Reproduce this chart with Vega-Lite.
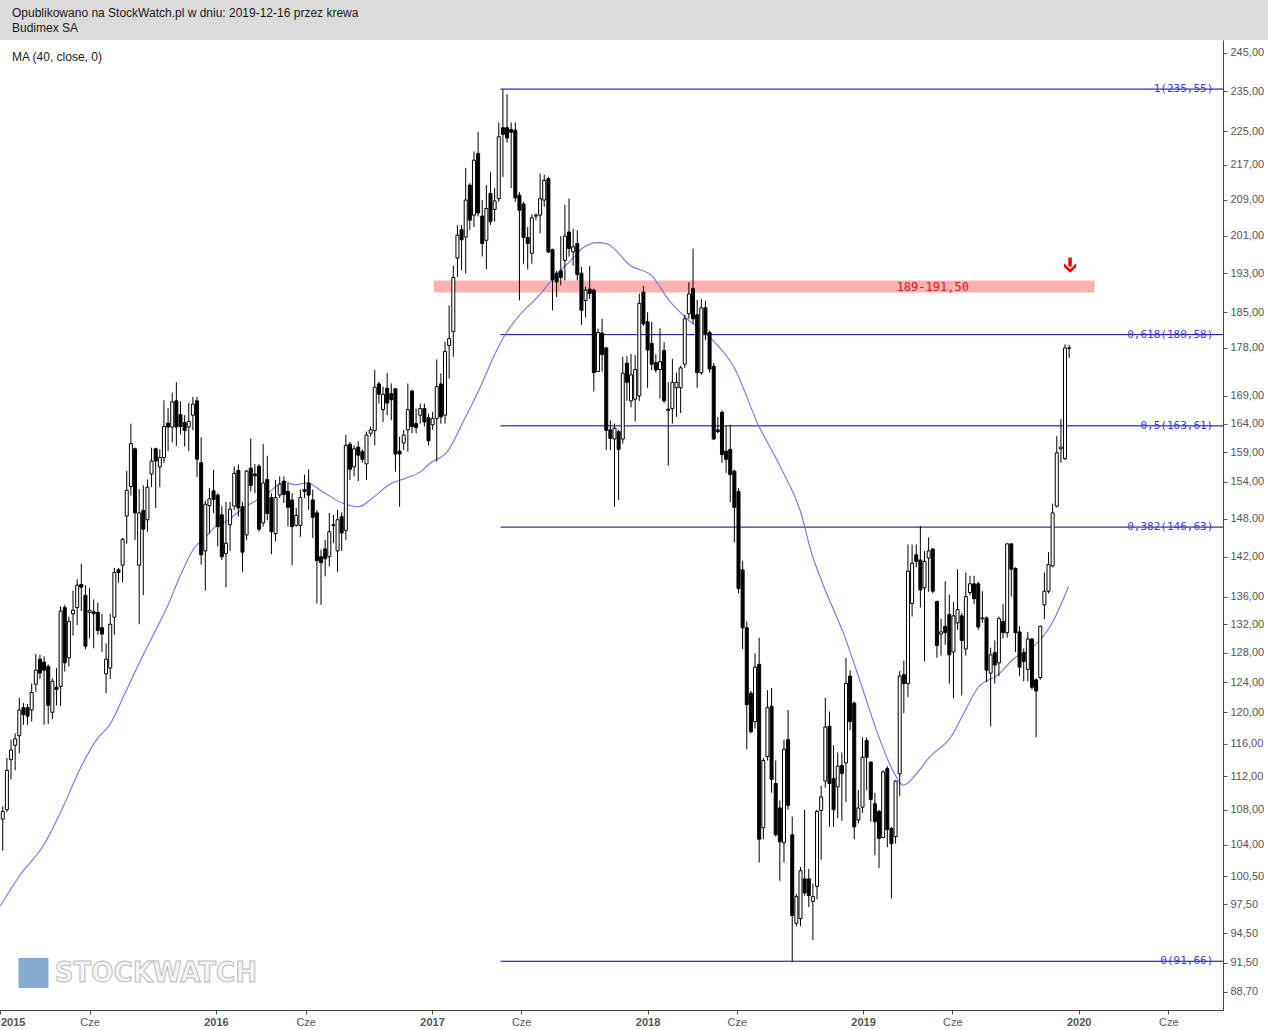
{
  "$schema": "https://vega.github.io/schema/vega-lite/v6.json",
  "padding": {"left": -2, "top": 0, "right": 0, "bottom": 0},
  "spacing": 0,
  "background": "#ffffff",
  "config": {"view": {"stroke": null}, "font": "Liberation Sans", "axis": {"labelFont": "Liberation Sans"}},
  "datasets": {
    "candles": [
      {"d":"2015-01-05","o":106.9,"h":108.4,"l":103.3,"c":107.8},
      {"d":"2015-01-12","o":108.0,"h":114.2,"l":107.7,"c":112.7},
      {"d":"2015-01-19","o":114.0,"h":116.5,"l":111.6,"c":115.2},
      {"d":"2015-01-26","o":115.8,"h":117.3,"l":112.7,"c":116.6},
      {"d":"2015-02-02","o":117.0,"h":121.9,"l":114.8,"c":120.3},
      {"d":"2015-02-09","o":120.6,"h":121.2,"l":118.4,"c":119.7},
      {"d":"2015-02-16","o":120.6,"h":121.1,"l":118.4,"c":119.5},
      {"d":"2015-02-23","o":120.3,"h":123.8,"l":118.8,"c":122.6},
      {"d":"2015-03-02","o":123.7,"h":127.8,"l":122.7,"c":125.6},
      {"d":"2015-03-09","o":127.1,"h":127.7,"l":124.4,"c":125.2},
      {"d":"2015-03-16","o":126.7,"h":127.5,"l":118.4,"c":125.6},
      {"d":"2015-03-23","o":126.1,"h":126.4,"l":118.5,"c":120.9},
      {"d":"2015-03-30","o":120.0,"h":124.5,"l":119.1,"c":124.1},
      {"d":"2015-04-06","o":123.3,"h":125.9,"l":120.9,"c":123.0},
      {"d":"2015-04-13","o":123.4,"h":134.6,"l":120.8,"c":133.9},
      {"d":"2015-04-20","o":134.4,"h":134.8,"l":125.4,"c":126.6},
      {"d":"2015-04-27","o":127.3,"h":133.1,"l":126.1,"c":132.4},
      {"d":"2015-05-04","o":133.5,"h":136.9,"l":130.4,"c":134.0},
      {"d":"2015-05-11","o":134.4,"h":138.6,"l":131.9,"c":137.7},
      {"d":"2015-05-18","o":137.8,"h":140.9,"l":133.9,"c":137.4},
      {"d":"2015-05-25","o":136.2,"h":137.7,"l":128.5,"c":128.9},
      {"d":"2015-06-01","o":133.7,"h":137.3,"l":130.0,"c":134.0},
      {"d":"2015-06-08","o":133.8,"h":135.6,"l":128.6,"c":133.5},
      {"d":"2015-06-15","o":133.7,"h":135.1,"l":130.5,"c":131.1},
      {"d":"2015-06-22","o":131.5,"h":133.5,"l":128.1,"c":130.6},
      {"d":"2015-06-29","o":125.1,"h":129.3,"l":122.5,"c":127.1},
      {"d":"2015-07-06","o":125.9,"h":133.5,"l":124.4,"c":132.0},
      {"d":"2015-07-13","o":133.0,"h":140.3,"l":130.5,"c":139.6},
      {"d":"2015-07-20","o":140.0,"h":140.3,"l":138.1,"c":139.6},
      {"d":"2015-07-27","o":140.7,"h":144.9,"l":138.1,"c":144.7},
      {"d":"2015-08-03","o":148.4,"h":155.8,"l":144.0,"c":152.6},
      {"d":"2015-08-10","o":153.2,"h":164.0,"l":151.7,"c":160.5},
      {"d":"2015-08-17","o":159.6,"h":159.8,"l":144.6,"c":148.9},
      {"d":"2015-08-24","o":140.7,"h":152.8,"l":132.0,"c":148.9},
      {"d":"2015-08-31","o":149.3,"h":153.4,"l":136.2,"c":146.3},
      {"d":"2015-09-07","o":147.8,"h":154.4,"l":145.9,"c":153.1},
      {"d":"2015-09-14","o":155.3,"h":159.8,"l":153.1,"c":157.5},
      {"d":"2015-09-21","o":159.6,"h":159.8,"l":149.7,"c":157.5},
      {"d":"2015-09-28","o":156.5,"h":159.5,"l":153.1,"c":158.1},
      {"d":"2015-10-05","o":158.1,"h":168.2,"l":157.2,"c":163.5},
      {"d":"2015-10-12","o":164.1,"h":166.8,"l":159.2,"c":163.4},
      {"d":"2015-10-19","o":163.4,"h":169.6,"l":160.7,"c":167.9},
      {"d":"2015-10-26","o":168.1,"h":171.5,"l":160.1,"c":163.4},
      {"d":"2015-11-02","o":165.6,"h":168.0,"l":162.1,"c":163.5},
      {"d":"2015-11-09","o":164.2,"h":165.5,"l":160.0,"c":162.8},
      {"d":"2015-11-16","o":163.4,"h":167.7,"l":159.2,"c":164.4},
      {"d":"2015-11-23","o":165.5,"h":168.8,"l":162.8,"c":167.5},
      {"d":"2015-11-30","o":168.1,"h":168.8,"l":154.8,"c":157.8},
      {"d":"2015-12-07","o":157.2,"h":161.6,"l":140.8,"c":142.3},
      {"d":"2015-12-14","o":142.9,"h":150.9,"l":136.9,"c":150.3},
      {"d":"2015-12-21","o":150.1,"h":153.0,"l":145.6,"c":151.2},
      {"d":"2015-12-28","o":152.5,"h":156.0,"l":148.9,"c":151.1},
      {"d":"2016-01-04","o":151.8,"h":152.1,"l":143.6,"c":146.7},
      {"d":"2016-01-11","o":148.6,"h":150.0,"l":141.5,"c":142.0},
      {"d":"2016-01-18","o":142.5,"h":150.7,"l":137.4,"c":144.1},
      {"d":"2016-01-25","o":147.0,"h":150.7,"l":142.9,"c":149.5},
      {"d":"2016-02-01","o":150.0,"h":156.6,"l":149.4,"c":155.4},
      {"d":"2016-02-08","o":155.9,"h":156.9,"l":148.3,"c":149.7},
      {"d":"2016-02-15","o":149.9,"h":150.7,"l":139.7,"c":142.7},
      {"d":"2016-02-22","o":145.4,"h":156.0,"l":144.6,"c":155.8},
      {"d":"2016-02-29","o":156.3,"h":161.4,"l":152.4,"c":153.4},
      {"d":"2016-03-07","o":155.3,"h":157.0,"l":152.1,"c":155.0},
      {"d":"2016-03-14","o":156.6,"h":157.0,"l":145.9,"c":146.3},
      {"d":"2016-03-21","o":147.3,"h":160.4,"l":146.7,"c":153.8},
      {"d":"2016-03-28","o":154.4,"h":158.4,"l":147.7,"c":148.8},
      {"d":"2016-04-04","o":151.4,"h":152.1,"l":142.4,"c":145.9},
      {"d":"2016-04-11","o":145.6,"h":154.3,"l":144.4,"c":151.4},
      {"d":"2016-04-18","o":151.8,"h":154.9,"l":151.3,"c":153.6},
      {"d":"2016-04-25","o":154.1,"h":154.9,"l":150.5,"c":151.9},
      {"d":"2016-05-02","o":152.4,"h":153.8,"l":146.7,"c":149.8},
      {"d":"2016-05-09","o":151.0,"h":152.1,"l":140.7,"c":146.7},
      {"d":"2016-05-16","o":146.9,"h":149.7,"l":146.7,"c":148.5},
      {"d":"2016-05-23","o":146.9,"h":152.7,"l":145.1,"c":151.4},
      {"d":"2016-05-30","o":152.7,"h":155.2,"l":151.3,"c":152.4},
      {"d":"2016-06-06","o":153.8,"h":156.1,"l":149.4,"c":151.8},
      {"d":"2016-06-13","o":151.0,"h":152.7,"l":144.9,"c":148.2},
      {"d":"2016-06-20","o":148.9,"h":149.4,"l":135.0,"c":141.4},
      {"d":"2016-06-27","o":142.0,"h":143.1,"l":134.8,"c":141.1},
      {"d":"2016-07-04","o":143.2,"h":144.6,"l":139.0,"c":141.7},
      {"d":"2016-07-11","o":142.0,"h":148.9,"l":140.5,"c":145.9},
      {"d":"2016-07-18","o":147.0,"h":148.6,"l":144.1,"c":146.9},
      {"d":"2016-07-25","o":142.9,"h":149.4,"l":139.7,"c":147.8},
      {"d":"2016-08-01","o":148.3,"h":149.0,"l":142.9,"c":145.7},
      {"d":"2016-08-08","o":146.1,"h":162.0,"l":144.6,"c":160.2},
      {"d":"2016-08-15","o":160.4,"h":160.8,"l":154.3,"c":156.1},
      {"d":"2016-08-22","o":156.5,"h":160.2,"l":154.9,"c":159.6},
      {"d":"2016-08-29","o":159.9,"h":160.9,"l":154.1,"c":158.5},
      {"d":"2016-09-05","o":159.1,"h":159.5,"l":157.2,"c":157.8},
      {"d":"2016-09-12","o":157.0,"h":162.6,"l":154.3,"c":162.0},
      {"d":"2016-09-19","o":162.3,"h":163.5,"l":161.7,"c":162.9},
      {"d":"2016-09-26","o":162.8,"h":173.8,"l":160.2,"c":170.6},
      {"d":"2016-10-03","o":171.2,"h":171.6,"l":167.6,"c":169.3},
      {"d":"2016-10-10","o":166.5,"h":170.7,"l":164.3,"c":169.3},
      {"d":"2016-10-17","o":170.4,"h":173.2,"l":165.5,"c":167.7},
      {"d":"2016-10-24","o":169.4,"h":171.3,"l":164.6,"c":168.3},
      {"d":"2016-10-31","o":170.3,"h":170.4,"l":155.7,"c":158.7},
      {"d":"2016-11-07","o":159.2,"h":161.7,"l":149.9,"c":158.7},
      {"d":"2016-11-14","o":160.6,"h":162.9,"l":159.4,"c":162.0},
      {"d":"2016-11-21","o":162.9,"h":171.3,"l":159.1,"c":166.5},
      {"d":"2016-11-28","o":169.9,"h":170.1,"l":162.3,"c":163.5},
      {"d":"2016-12-05","o":164.0,"h":166.7,"l":162.3,"c":163.3},
      {"d":"2016-12-12","o":165.5,"h":167.6,"l":164.0,"c":166.7},
      {"d":"2016-12-19","o":166.7,"h":167.6,"l":163.5,"c":164.3},
      {"d":"2016-12-26","o":165.1,"h":165.8,"l":160.2,"c":161.0},
      {"d":"2017-01-02","o":163.8,"h":166.1,"l":162.9,"c":164.9},
      {"d":"2017-01-09","o":164.9,"h":175.8,"l":157.4,"c":170.7},
      {"d":"2017-01-16","o":171.2,"h":173.2,"l":164.0,"c":165.2},
      {"d":"2017-01-23","o":165.5,"h":179.2,"l":164.0,"c":177.3},
      {"d":"2017-01-30","o":178.5,"h":186.4,"l":172.2,"c":179.8},
      {"d":"2017-02-06","o":181.2,"h":194.6,"l":176.3,"c":192.1},
      {"d":"2017-02-13","o":196.2,"h":203.3,"l":192.2,"c":201.1},
      {"d":"2017-02-20","o":202.3,"h":203.3,"l":193.6,"c":200.1},
      {"d":"2017-02-27","o":200.7,"h":216.3,"l":192.9,"c":208.9},
      {"d":"2017-03-06","o":212.3,"h":212.8,"l":202.2,"c":204.4},
      {"d":"2017-03-13","o":205.5,"h":220.2,"l":202.9,"c":218.1},
      {"d":"2017-03-20","o":219.7,"h":224.9,"l":205.2,"c":206.0},
      {"d":"2017-03-27","o":205.3,"h":208.9,"l":196.5,"c":199.3},
      {"d":"2017-04-03","o":200.0,"h":212.3,"l":193.8,"c":207.0},
      {"d":"2017-04-10","o":210.4,"h":215.3,"l":203.3,"c":204.1},
      {"d":"2017-04-17","o":206.8,"h":211.6,"l":204.1,"c":208.7},
      {"d":"2017-04-24","o":209.2,"h":227.2,"l":208.5,"c":223.7},
      {"d":"2017-05-01","o":225.9,"h":235.55,"l":214.2,"c":224.3},
      {"d":"2017-05-08","o":225.9,"h":234.2,"l":222.3,"c":223.4},
      {"d":"2017-05-15","o":225.5,"h":227.2,"l":211.6,"c":224.8},
      {"d":"2017-05-22","o":225.3,"h":227.2,"l":208.5,"c":209.4},
      {"d":"2017-05-29","o":210.0,"h":210.7,"l":187.4,"c":206.6},
      {"d":"2017-06-05","o":208.0,"h":208.5,"l":195.0,"c":200.6},
      {"d":"2017-06-12","o":200.6,"h":202.9,"l":193.8,"c":199.3},
      {"d":"2017-06-19","o":197.2,"h":205.7,"l":195.0,"c":204.9},
      {"d":"2017-06-26","o":205.3,"h":205.9,"l":204.4,"c":205.5},
      {"d":"2017-07-03","o":205.5,"h":215.0,"l":201.5,"c":209.2},
      {"d":"2017-07-10","o":208.9,"h":214.7,"l":207.4,"c":213.4},
      {"d":"2017-07-17","o":213.8,"h":214.2,"l":197.2,"c":197.5},
      {"d":"2017-07-24","o":198.0,"h":198.2,"l":185.4,"c":191.6},
      {"d":"2017-07-31","o":193.0,"h":193.5,"l":188.1,"c":191.2},
      {"d":"2017-08-07","o":193.5,"h":200.9,"l":190.5,"c":192.1},
      {"d":"2017-08-14","o":195.7,"h":207.8,"l":191.5,"c":200.9},
      {"d":"2017-08-21","o":201.8,"h":209.2,"l":196.5,"c":198.2},
      {"d":"2017-08-28","o":197.5,"h":202.5,"l":194.6,"c":198.6},
      {"d":"2017-09-04","o":199.3,"h":202.2,"l":191.5,"c":192.7},
      {"d":"2017-09-11","o":193.0,"h":194.3,"l":182.5,"c":185.4},
      {"d":"2017-09-18","o":187.4,"h":190.2,"l":184.0,"c":189.5},
      {"d":"2017-09-25","o":189.7,"h":194.5,"l":187.7,"c":188.8},
      {"d":"2017-10-02","o":189.5,"h":189.8,"l":169.8,"c":173.3},
      {"d":"2017-10-09","o":173.5,"h":181.8,"l":173.5,"c":181.0},
      {"d":"2017-10-16","o":180.9,"h":183.7,"l":173.5,"c":176.7},
      {"d":"2017-10-23","o":178.0,"h":178.2,"l":159.4,"c":162.8},
      {"d":"2017-10-30","o":162.9,"h":164.6,"l":159.4,"c":161.4},
      {"d":"2017-11-06","o":161.3,"h":164.0,"l":149.9,"c":163.2},
      {"d":"2017-11-13","o":162.6,"h":162.9,"l":151.0,"c":159.5},
      {"d":"2017-11-20","o":161.3,"h":176.3,"l":160.5,"c":173.2},
      {"d":"2017-11-27","o":175.1,"h":176.4,"l":168.1,"c":171.5},
      {"d":"2017-12-04","o":168.1,"h":176.8,"l":166.9,"c":172.9},
      {"d":"2017-12-11","o":168.4,"h":176.6,"l":164.4,"c":173.9},
      {"d":"2017-12-18","o":169.0,"h":188.8,"l":168.1,"c":186.8},
      {"d":"2017-12-25","o":189.1,"h":190.3,"l":182.3,"c":182.7},
      {"d":"2018-01-01","o":183.1,"h":185.0,"l":170.5,"c":177.6},
      {"d":"2018-01-08","o":178.9,"h":183.1,"l":173.8,"c":174.9},
      {"d":"2018-01-15","o":175.2,"h":176.8,"l":173.3,"c":173.8},
      {"d":"2018-01-22","o":173.9,"h":181.8,"l":168.5,"c":175.4},
      {"d":"2018-01-29","o":177.5,"h":179.1,"l":167.7,"c":168.1},
      {"d":"2018-02-05","o":166.6,"h":171.5,"l":156.7,"c":166.4},
      {"d":"2018-02-12","o":166.7,"h":175.9,"l":164.0,"c":171.5},
      {"d":"2018-02-19","o":170.5,"h":173.3,"l":165.2,"c":171.5},
      {"d":"2018-02-26","o":170.5,"h":174.6,"l":165.9,"c":174.2},
      {"d":"2018-03-05","o":174.9,"h":184.5,"l":174.2,"c":183.7},
      {"d":"2018-03-12","o":184.7,"h":191.1,"l":183.7,"c":188.7},
      {"d":"2018-03-19","o":189.8,"h":198.2,"l":182.7,"c":183.7},
      {"d":"2018-03-26","o":184.5,"h":187.5,"l":170.5,"c":173.3},
      {"d":"2018-04-02","o":173.3,"h":187.7,"l":172.9,"c":185.9},
      {"d":"2018-04-09","o":185.9,"h":187.3,"l":179.5,"c":180.7},
      {"d":"2018-04-16","o":181.0,"h":181.4,"l":173.3,"c":174.0},
      {"d":"2018-04-23","o":174.5,"h":175.1,"l":161.1,"c":161.3},
      {"d":"2018-04-30","o":162.9,"h":165.2,"l":162.3,"c":162.6},
      {"d":"2018-05-07","o":166.0,"h":166.4,"l":157.2,"c":158.6},
      {"d":"2018-05-14","o":159.2,"h":163.6,"l":155.5,"c":157.8},
      {"d":"2018-05-21","o":159.5,"h":163.8,"l":150.6,"c":155.2},
      {"d":"2018-05-28","o":155.8,"h":156.0,"l":144.2,"c":149.8},
      {"d":"2018-06-04","o":152.4,"h":152.9,"l":136.5,"c":137.2},
      {"d":"2018-06-11","o":140.0,"h":141.4,"l":128.5,"c":131.5},
      {"d":"2018-06-18","o":131.5,"h":132.4,"l":115.3,"c":121.0},
      {"d":"2018-06-25","o":122.5,"h":122.8,"l":117.3,"c":117.5},
      {"d":"2018-07-02","o":118.8,"h":127.9,"l":117.9,"c":126.0},
      {"d":"2018-07-09","o":126.4,"h":130.1,"l":102.0,"c":104.6},
      {"d":"2018-07-16","o":105.9,"h":114.2,"l":104.6,"c":113.9},
      {"d":"2018-07-23","o":114.4,"h":122.9,"l":113.9,"c":120.6},
      {"d":"2018-07-30","o":120.8,"h":123.2,"l":110.0,"c":111.6},
      {"d":"2018-08-06","o":111.1,"h":113.9,"l":104.9,"c":105.1},
      {"d":"2018-08-13","o":108.2,"h":109.1,"l":100.0,"c":104.3},
      {"d":"2018-08-20","o":104.2,"h":116.5,"l":102.0,"c":115.3},
      {"d":"2018-08-27","o":116.5,"h":120.3,"l":108.0,"c":108.5},
      {"d":"2018-09-03","o":105.1,"h":107.2,"l":91.66,"c":96.3},
      {"d":"2018-09-10","o":95.5,"h":98.6,"l":95.2,"c":98.3},
      {"d":"2018-09-17","o":96.0,"h":101.5,"l":95.2,"c":101.1},
      {"d":"2018-09-24","o":100.2,"h":108.0,"l":98.4,"c":98.7},
      {"d":"2018-10-01","o":100.2,"h":101.3,"l":97.2,"c":98.4},
      {"d":"2018-10-08","o":97.8,"h":99.7,"l":93.8,"c":98.3},
      {"d":"2018-10-15","o":99.4,"h":108.0,"l":98.0,"c":107.8},
      {"d":"2018-10-22","o":107.9,"h":110.8,"l":102.3,"c":109.5},
      {"d":"2018-10-29","o":111.4,"h":121.9,"l":110.6,"c":118.1},
      {"d":"2018-11-05","o":118.2,"h":120.1,"l":106.0,"c":111.1},
      {"d":"2018-11-12","o":111.7,"h":115.8,"l":106.0,"c":108.0},
      {"d":"2018-11-19","o":110.7,"h":114.9,"l":107.0,"c":113.2},
      {"d":"2018-11-26","o":113.3,"h":114.9,"l":106.7,"c":112.3},
      {"d":"2018-12-03","o":113.6,"h":127.3,"l":108.9,"c":123.8},
      {"d":"2018-12-10","o":124.8,"h":125.6,"l":117.7,"c":118.8},
      {"d":"2018-12-17","o":121.2,"h":121.4,"l":104.6,"c":106.0},
      {"d":"2018-12-24","o":106.8,"h":110.3,"l":106.4,"c":108.2},
      {"d":"2018-12-31","o":108.3,"h":116.8,"l":107.6,"c":114.3},
      {"d":"2019-01-07","o":116.4,"h":116.8,"l":110.3,"c":114.3},
      {"d":"2019-01-14","o":113.7,"h":113.8,"l":106.6,"c":109.2},
      {"d":"2019-01-21","o":108.7,"h":110.0,"l":102.8,"c":106.6},
      {"d":"2019-01-28","o":107.8,"h":108.0,"l":101.4,"c":104.7},
      {"d":"2019-02-04","o":104.8,"h":112.7,"l":104.7,"c":112.5},
      {"d":"2019-02-11","o":112.9,"h":113.2,"l":103.7,"c":105.7},
      {"d":"2019-02-18","o":105.8,"h":106.0,"l":98.1,"c":104.1},
      {"d":"2019-02-25","o":104.9,"h":111.5,"l":104.1,"c":111.4},
      {"d":"2019-03-04","o":112.3,"h":125.5,"l":109.6,"c":124.8},
      {"d":"2019-03-11","o":125.0,"h":126.9,"l":119.9,"c":123.8},
      {"d":"2019-03-18","o":123.8,"h":143.9,"l":122.0,"c":139.8},
      {"d":"2019-03-25","o":135.0,"h":143.9,"l":133.1,"c":141.0},
      {"d":"2019-04-01","o":142.3,"h":143.9,"l":140.4,"c":141.3},
      {"d":"2019-04-08","o":141.5,"h":146.8,"l":134.4,"c":137.0},
      {"d":"2019-04-15","o":137.3,"h":142.9,"l":126.8,"c":141.3},
      {"d":"2019-04-22","o":141.8,"h":145.0,"l":136.7,"c":142.9},
      {"d":"2019-04-29","o":143.2,"h":143.3,"l":136.5,"c":136.8},
      {"d":"2019-05-06","o":135.3,"h":135.4,"l":127.3,"c":129.0},
      {"d":"2019-05-13","o":130.6,"h":132.8,"l":127.6,"c":130.9},
      {"d":"2019-05-20","o":131.7,"h":138.3,"l":129.1,"c":130.8},
      {"d":"2019-05-27","o":133.4,"h":136.3,"l":123.8,"c":127.7},
      {"d":"2019-06-03","o":128.1,"h":135.2,"l":121.8,"c":133.2},
      {"d":"2019-06-10","o":132.2,"h":140.1,"l":131.2,"c":134.1},
      {"d":"2019-06-17","o":133.2,"h":133.6,"l":122.2,"c":129.7},
      {"d":"2019-06-24","o":128.5,"h":139.6,"l":127.6,"c":136.0},
      {"d":"2019-07-01","o":136.6,"h":139.1,"l":136.2,"c":137.9},
      {"d":"2019-07-08","o":137.9,"h":139.1,"l":134.9,"c":135.7},
      {"d":"2019-07-15","o":137.9,"h":138.2,"l":131.2,"c":131.6},
      {"d":"2019-07-22","o":132.8,"h":136.8,"l":132.2,"c":132.9},
      {"d":"2019-07-29","o":132.9,"h":133.1,"l":124.0,"c":125.6},
      {"d":"2019-08-05","o":125.2,"h":128.7,"l":118.2,"c":127.7},
      {"d":"2019-08-12","o":128.0,"h":129.7,"l":123.8,"c":126.3},
      {"d":"2019-08-19","o":126.6,"h":133.1,"l":124.8,"c":132.8},
      {"d":"2019-08-26","o":132.4,"h":134.9,"l":130.0,"c":130.8},
      {"d":"2019-09-02","o":130.8,"h":144.0,"l":130.1,"c":144.0},
      {"d":"2019-09-09","o":144.0,"h":144.0,"l":136.0,"c":140.1},
      {"d":"2019-09-16","o":140.2,"h":140.4,"l":128.1,"c":130.8},
      {"d":"2019-09-23","o":130.9,"h":131.7,"l":124.8,"c":126.0},
      {"d":"2019-09-30","o":128.0,"h":128.6,"l":124.1,"c":126.8},
      {"d":"2019-10-07","o":125.7,"h":130.9,"l":124.1,"c":129.9},
      {"d":"2019-10-14","o":129.9,"h":130.1,"l":123.0,"c":123.3},
      {"d":"2019-10-21","o":124.3,"h":124.5,"l":116.8,"c":122.8},
      {"d":"2019-10-28","o":124.6,"h":131.8,"l":124.3,"c":131.7},
      {"d":"2019-11-04","o":134.8,"h":139.6,"l":132.7,"c":136.8},
      {"d":"2019-11-11","o":136.8,"h":142.7,"l":136.5,"c":140.8},
      {"d":"2019-11-18","o":140.6,"h":150.4,"l":140.4,"c":148.9},
      {"d":"2019-11-25","o":150.0,"h":161.8,"l":149.8,"c":158.9},
      {"d":"2019-12-02","o":159.6,"h":164.8,"l":157.2,"c":159.9},
      {"d":"2019-12-09","o":157.9,"h":178.7,"l":157.7,"c":178.0},
      {"d":"2019-12-16","o":178.0,"h":178.6,"l":176.1,"c":177.9}
    ],
    "ma": [
      {"d":"2015-01-01","v":97.3},{"d":"2015-02-03","v":100.6},{"d":"2015-03-14","v":103.8},
      {"d":"2015-04-17","v":108.3},{"d":"2015-05-16","v":112.9},{"d":"2015-06-13","v":116.5},
      {"d":"2015-07-06","v":118.5},{"d":"2015-07-31","v":122.5},{"d":"2015-08-26","v":126.9},
      {"d":"2015-09-17","v":130.5},{"d":"2015-10-10","v":134.4},{"d":"2015-11-01","v":139.0},
      {"d":"2015-11-24","v":143.2},{"d":"2015-12-17","v":145.3},{"d":"2015-12-31","v":146.7},
      {"d":"2016-01-17","v":147.5},{"d":"2016-02-20","v":149.9},{"d":"2016-03-25","v":151.8},
      {"d":"2016-04-28","v":154.0},{"d":"2016-05-12","v":153.5},{"d":"2016-06-04","v":153.8},
      {"d":"2016-06-29","v":152.4},{"d":"2016-08-02","v":150.5},{"d":"2016-08-30","v":149.9},
      {"d":"2016-09-22","v":151.3},{"d":"2016-10-20","v":153.5},{"d":"2016-11-17","v":154.6},
      {"d":"2016-12-13","v":155.7},{"d":"2016-12-30","v":157.2},{"d":"2017-01-27","v":159.1},
      {"d":"2017-02-24","v":164.6},{"d":"2017-03-24","v":170.7},{"d":"2017-04-16","v":176.5},
      {"d":"2017-05-06","v":180.8},{"d":"2017-05-31","v":184.7},{"d":"2017-06-29","v":188.1},
      {"d":"2017-07-27","v":192.2},{"d":"2017-08-24","v":195.7},{"d":"2017-09-16","v":198.6},
      {"d":"2017-10-08","v":199.5},{"d":"2017-10-25","v":199.2},{"d":"2017-12-04","v":194.5},
      {"d":"2018-01-07","v":192.6},{"d":"2018-02-07","v":187.3},{"d":"2018-03-10","v":183.6},
      {"d":"2018-04-18","v":179.9},{"d":"2018-05-28","v":174.2},{"d":"2018-07-07","v":163.9},
      {"d":"2018-08-15","v":156.3},{"d":"2018-09-18","v":148.8},{"d":"2018-10-05","v":142.8},
      {"d":"2018-10-22","v":138.5},{"d":"2018-12-01","v":130.2},{"d":"2018-12-29","v":123.6},
      {"d":"2019-01-26","v":117.2},{"d":"2019-02-23","v":112.3},{"d":"2019-03-10","v":110.9},
      {"d":"2019-04-04","v":112.5},{"d":"2019-04-21","v":114.1},{"d":"2019-05-31","v":117.0},
      {"d":"2019-06-22","v":120.1},{"d":"2019-07-15","v":123.3},{"d":"2019-08-18","v":125.0},
      {"d":"2019-09-15","v":127.3},{"d":"2019-10-13","v":128.6},{"d":"2019-11-16","v":132.0},
      {"d":"2019-12-15","v":137.5}
    ],
    "fib": [
      {"v":235.55,"lab":"1(235,55)"},
      {"v":180.58,"lab":"0,618(180,58)"},
      {"v":163.61,"lab":"0,5(163,61)"},
      {"v":146.63,"lab":"0,382(146,63)"},
      {"v":91.66,"lab":"0(91,66)"}
    ]
  },
  "vconcat": [
    {
      "width": 1268,
      "height": 40,
      "view": {"fill": "#dcdcdc", "stroke": null},
      "data": {"values": [
        {"row": 0, "t": "Opublikowano na StockWatch.pl w dniu: 2019-12-16 przez krewa"},
        {"row": 1, "t": "Budimex SA"}
      ]},
      "mark": {"type": "text", "align": "left", "baseline": "middle", "fontSize": 12, "font": "Liberation Sans", "color": "#1a1a1a"},
      "encoding": {
        "x": {"datum": 12, "type": "quantitative", "scale": {"domain": [0, 1268]}, "axis": null},
        "y": {"field": "row", "type": "quantitative", "scale": {"domain": [-0.8667, 1.8], "reverse": true}, "axis": null},
        "text": {"field": "t"}
      }
    },
    {
      "width": 1223,
      "height": 970,
      "layer": [
        {
          "data": {"values": [{}]},
          "mark": {"type": "rect", "color": "#ff0000", "opacity": 0.31},
          "encoding": {
            "x": {"datum": {"year": 2017, "month": 1, "date": 4, "utc": true}, "type": "temporal",
                  "scale": {"type": "utc", "padding": 0, "domain": [{"year": 2014, "month": 12, "date": 31, "hours": 8, "utc": true}, {"year": 2020, "month": 9, "date": 1, "hours": 12, "utc": true}]},
                  "axis": {
                    "orient": "bottom", "title": null, "grid": false,
                    "values": [
                      {"year": 2015, "month": 1, "date": 1, "utc": true}, {"year": 2015, "month": 6, "date": 1, "utc": true},
                      {"year": 2016, "month": 1, "date": 1, "utc": true}, {"year": 2016, "month": 6, "date": 1, "utc": true},
                      {"year": 2017, "month": 1, "date": 1, "utc": true}, {"year": 2017, "month": 6, "date": 1, "utc": true},
                      {"year": 2018, "month": 1, "date": 1, "utc": true}, {"year": 2018, "month": 6, "date": 1, "utc": true},
                      {"year": 2019, "month": 1, "date": 1, "utc": true}, {"year": 2019, "month": 6, "date": 1, "utc": true},
                      {"year": 2020, "month": 1, "date": 1, "utc": true}, {"year": 2020, "month": 6, "date": 1, "utc": true}
                    ],
                    "labelExpr": "utcmonth(datum.value) == 0 ? utcFormat(datum.value, '%Y') : 'Cze'",
                    "labelFontWeight": {"condition": {"test": "utcmonth(datum.value) == 0", "value": "bold"}, "value": "normal"},
                    "labelFontSize": 11, "labelColor": "#555555", "labelPadding": 2,
                    "tickSize": 4, "tickColor": "#555555", "domainColor": "#444444",
                    "labelFlush": 5, "labelOverlap": false
                  }},
            "x2": {"datum": {"year": 2020, "month": 1, "date": 28, "utc": true}},
            "y": {"datum": 189, "type": "quantitative",
                  "scale": {"type": "log", "padding": 0, "domain": [86.95, 248.4], "nice": false, "zero": false},
                  "axis": {
                    "orient": "right", "title": null, "grid": false,
                    "values": [245, 235, 225, 217, 209, 201, 193, 185, 178, 169, 164, 159, 154, 148, 142, 136, 132, 128, 124, 120, 116, 112, 108, 104, 100.5, 97.5, 94.5, 91.5, 88.7],
                    "labelExpr": "replace(format(datum.value, '.2f'), '.', ',')",
                    "labelFontSize": 11, "labelColor": "#555555", "labelPadding": 3,
                    "tickSize": 4, "tickColor": "#555555", "domainColor": "#444444",
                    "labelOverlap": false, "labelFlush": false
                  }},
            "y2": {"datum": 191.5}
          }
        },
        {
          "data": {"name": "fib"},
          "mark": {"type": "rule", "color": "#000080", "strokeWidth": 1},
          "encoding": {
            "x": {"datum": {"year": 2017, "month": 4, "date": 27, "utc": true}, "type": "temporal"},
            "x2": {"datum": {"year": 2020, "month": 9, "date": 1, "hours": 12, "utc": true}},
            "y": {"field": "v", "type": "quantitative"}
          }
        },
        {
          "data": {"name": "ma"},
          "mark": {"type": "line", "color": "#7474e4", "strokeWidth": 1.1, "interpolate": "monotone"},
          "encoding": {
            "x": {"field": "d", "type": "temporal"},
            "y": {"field": "v", "type": "quantitative"}
          }
        },
        {
          "data": {"name": "candles"},
          "mark": {"type": "rule", "color": "#000000", "strokeWidth": 1},
          "encoding": {
            "x": {"field": "d", "type": "temporal"},
            "y": {"field": "l", "type": "quantitative"},
            "y2": {"field": "h"}
          }
        },
        {
          "data": {"name": "candles"},
          "mark": {"type": "bar", "size": 3, "stroke": "#000000", "strokeWidth": 1},
          "encoding": {
            "x": {"field": "d", "type": "temporal"},
            "y": {"field": "o", "type": "quantitative"},
            "y2": {"field": "c"},
            "fill": {"condition": {"test": "datum.c < datum.o", "value": "#000000"}, "value": "#ffffff"}
          }
        },
        {
          "data": {"name": "fib"},
          "mark": {"type": "text", "align": "right", "baseline": "middle", "font": "DejaVu Sans Mono", "fontSize": 11, "color": "#3a3ae6"},
          "encoding": {
            "x": {"datum": {"year": 2020, "month": 8, "date": 16, "utc": true}, "type": "temporal"},
            "y": {"field": "v", "type": "quantitative"},
            "text": {"field": "lab"}
          }
        },
        {
          "data": {"values": [{"t": "189-191,50"}]},
          "mark": {"type": "text", "align": "center", "baseline": "middle", "font": "DejaVu Sans Mono", "fontSize": 12, "color": "#e01414"},
          "encoding": {
            "x": {"datum": {"year": 2019, "month": 4, "date": 29, "utc": true}, "type": "temporal"},
            "y": {"datum": 190.2, "type": "quantitative"},
            "text": {"field": "t"}
          }
        },
        {
          "data": {"values": [{}]},
          "mark": {"type": "rule", "color": "#ee0000", "strokeWidth": 3.5},
          "encoding": {
            "x": {"datum": {"year": 2019, "month": 12, "date": 17, "hours": 12, "utc": true}, "type": "temporal"},
            "y": {"datum": 196.3, "type": "quantitative"},
            "y2": {"datum": 194.4}
          }
        },
        {
          "data": {"values": [{}]},
          "mark": {"type": "point", "shape": "M-1,-0.55 L0,0.45 L1,-0.55 L1,0.1 L0,1 L-1,0.1 Z", "filled": true, "color": "#ee0000", "opacity": 1, "size": 150, "strokeWidth": 0},
          "encoding": {
            "x": {"datum": {"year": 2019, "month": 12, "date": 17, "hours": 12, "utc": true}, "type": "temporal"},
            "y": {"datum": 194.4, "type": "quantitative"}
          }
        },
        {
          "data": {"values": [{"t": "MA (40, close, 0)"}]},
          "mark": {"type": "text", "align": "left", "baseline": "middle", "fontSize": 12, "font": "Liberation Sans", "color": "#1a1a1a"},
          "encoding": {
            "x": {"datum": {"year": 2015, "month": 1, "date": 20, "hours": 12, "utc": true}, "type": "temporal"},
            "y": {"datum": 243.8, "type": "quantitative"},
            "text": {"field": "t"}
          }
        },
        {
          "data": {"values": [{}]},
          "mark": {"type": "square", "filled": true, "color": "#5d8fc4", "opacity": 0.75, "size": 900},
          "encoding": {
            "x": {"datum": {"year": 2015, "month": 2, "date": 26, "utc": true}, "type": "temporal"},
            "y": {"datum": 90.5, "type": "quantitative"}
          }
        },
        {
          "data": {"values": [{"t": "STOCKWATCH"}]},
          "mark": {"type": "text", "align": "left", "baseline": "middle", "font": "'Liberation Sans Narrow', 'DejaVu Sans Condensed', 'Liberation Sans', sans-serif", "fontWeight": "bold", "fontSize": 29, "fill": "#f4f4f4", "stroke": "#bdbdbd", "strokeWidth": 1},
          "encoding": {
            "x": {"datum": {"year": 2015, "month": 4, "date": 3, "utc": true}, "type": "temporal"},
            "y": {"datum": 90.5, "type": "quantitative"},
            "text": {"field": "t"}
          }
        }
      ]
    }
  ]
}
